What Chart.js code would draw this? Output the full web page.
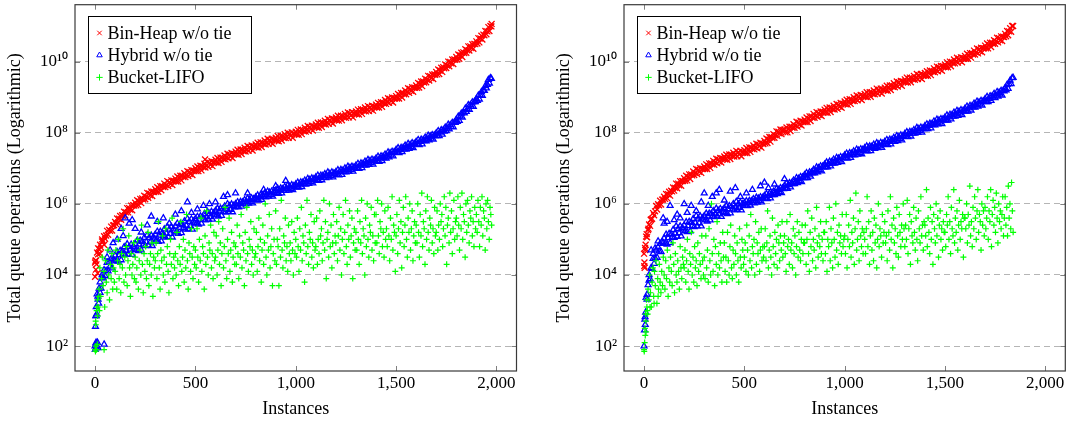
<!DOCTYPE html>
<html>
<head>
<meta charset="utf-8">
<title>Total queue operations</title>
<script src="https://cdn.jsdelivr.net/npm/chart.js@4.4.0/dist/chart.umd.min.js"></script>
<style>
  html, body { margin: 0; padding: 0; background: #fff; }
  #wrap { position: relative; width: 1075px; height: 421px; }
  .panel { position: absolute; top: 0; height: 421px; }
  #p1 { left: 0; width: 540px; }
  #p2 { left: 540px; width: 535px; }
</style>
</head>
<body>
<div id="wrap">
  <div class="panel" id="p1"><canvas id="chartA"></canvas></div>
  <div class="panel" id="p2"><canvas id="chartB"></canvas></div>
</div>
<script>
const seriesNames = ['Bin-Heap w/o tie', 'Hybrid w/o tie', 'Bucket-LIFO'];
const xTicks = [0, 500, 1000, 1500, 2000];
const yTickExps = [2, 4, 6, 8, 10];

// values as log10(total queue operations)
// curve series: hundredths of a decade, one value every 5 instances
// cloud series: tenths of a decade, one value every 4 instances
// extra points: [instance, log10 value]
const curveStep = 5;
const cloudStep = 4;

// ---- left panel ----
const binHeapA = [
  435,441,463,458,473,485,477,494,495,509,502,511,524,513,527,524,536,525,539,540,
  549,543,559,547,558,566,555,568,566,578,568,576,588,576,588,584,595,582,596,595,
  603,596,610,597,607,614,602,615,612,623,613,620,631,617,629,624,635,622,634,633,
  641,634,647,634,643,650,638,650,647,657,647,653,664,650,661,656,666,653,665,664,
  671,663,677,663,673,679,666,679,675,686,675,681,692,678,690,684,695,681,694,692,
  700,692,705,692,701,707,694,706,703,713,702,708,718,704,716,710,720,706,718,717,
  724,716,729,715,724,730,718,730,726,736,725,731,741,728,739,733,743,729,741,740,
  747,739,752,738,747,753,740,752,748,758,747,753,763,749,760,754,764,750,762,760,
  767,759,772,758,767,773,760,772,768,778,767,773,783,769,780,773,783,769,781,779,
  786,778,791,776,785,791,778,790,786,796,785,790,800,786,797,791,801,786,798,796,
  803,795,808,794,803,809,796,808,804,814,803,809,819,805,816,810,820,806,818,816,
  823,815,828,814,823,829,816,828,824,834,823,829,839,825,836,830,840,826,838,836,
  843,835,848,834,842,848,835,847,843,853,842,847,857,843,854,848,858,843,855,853,
  860,852,865,851,860,866,853,865,861,871,860,865,875,861,872,866,876,862,874,872,
  879,871,884,871,880,886,873,885,882,892,881,887,897,884,895,889,899,885,898,896,
  903,896,909,896,905,912,899,912,908,919,908,915,925,912,923,918,928,915,927,926,
  933,926,940,927,937,944,931,944,941,952,942,949,960,947,959,954,964,951,964,963,
  971,964,978,965,975,983,971,984,981,992,982,989,1000,987,999,995,1006,993,1006,1005,
  1013,1006,1020,1008,1018,1025,1013,1026,1024,1035,1025,1032,1043,1031,1043,1038,1049,1036,1050,1049,
  1057,1051,1066,1054,1065,1073,1062,1076,1074,1086,1077,1085,1097,1086,1100,1099
];
const binHeapExtraA = [[0, 3.95], [2, 4.4], [4, 4.15], [7, 4.3], [13, 4.05], [15, 4.75], [25, 4.6],
  [35, 5.0], [45, 4.85], [548, 7.25], [1976, 11.06]];

const hybridA = [
  200,285,346,331,362,380,362,392,391,414,397,412,435,411,436,425,445,419,444,441,
  455,439,465,438,456,468,442,466,459,479,457,468,487,458,479,472,486,457,480,475,
  488,471,497,468,486,497,470,494,485,505,482,493,512,484,505,492,511,482,506,501,
  514,497,522,494,511,522,495,518,510,529,506,517,536,507,528,516,535,506,529,524,
  537,520,545,516,533,544,518,541,532,551,528,539,558,529,550,537,557,528,551,546,
  558,545,564,542,556,565,545,563,556,572,554,563,578,556,572,563,578,556,574,570,
  581,568,587,565,579,587,567,585,578,593,576,585,600,578,594,584,599,577,595,591,
  600,592,605,591,600,606,593,605,601,611,599,605,615,601,612,606,616,602,614,612,
  619,611,624,610,619,625,612,624,620,630,619,625,635,621,632,625,635,621,633,631,
  638,630,643,629,638,644,630,642,638,648,637,643,652,638,649,643,653,639,650,648,
  655,647,660,646,655,661,648,660,656,666,655,661,671,657,668,662,672,658,670,668,
  675,667,680,665,674,680,667,679,675,684,673,679,689,675,685,679,689,675,686,684,
  690,682,695,681,690,696,682,694,690,700,689,695,705,691,702,696,705,691,703,701,
  708,700,713,699,708,714,701,713,709,719,708,714,724,710,721,715,725,711,723,721,
  728,720,733,719,728,734,721,733,729,739,728,734,745,731,743,737,747,734,746,745,
  752,744,757,743,752,758,746,758,754,764,753,759,769,755,766,761,771,757,769,768,
  775,767,780,766,775,781,768,780,777,787,776,782,792,779,790,784,794,781,793,791,
  799,791,805,791,801,808,795,808,804,815,805,812,823,810,822,817,828,816,829,828,
  837,831,846,834,846,854,843,857,855,868,859,866,878,865,878,874,886,873,887,887,
  895,890,905,894,906,915,904,919,918,932,925,935,949,939,954,952
];
const hybridExtraA = [[1, 1.9], [3, 2.05], [5, 2.1], [7, 1.95], [9, 2.0], [12, 2.1], [15, 1.95], [45, 2.05],
  [2, 2.55], [4, 2.85], [6, 3.1], [8, 2.9], [14, 3.4], [18, 3.2], [25, 3.5], [35, 4.0], [60, 4.5],
  [75, 4.7], [90, 4.9], [110, 5.0], [130, 5.3], [140, 5.1], [150, 5.6], [170, 5.45], [185, 5.55],
  [200, 5.3], [230, 5.2], [260, 5.4], [280, 5.65], [310, 5.5], [340, 5.6], [370, 5.45], [400, 5.7],
  [430, 5.8], [460, 6.05], [480, 5.75], [510, 5.85], [540, 5.95], [570, 6.0], [600, 6.05], [640, 6.2],
  [660, 6.25], [700, 6.3], [760, 6.3], [840, 6.4], [900, 6.5], [950, 6.65]];

const bucketA = [
  19,26,30,33,31,36,42,34,39,45,37,41,31,44,38,35,47,40,33,43,39,46,36,42,38,
  41,47,36,44,50,39,43,35,46,42,53,38,45,40,48,37,44,51,42,34,46,40,43,49,39,
  45,38,42,50,36,44,47,40,54,43,35,46,41,48,39,44,52,37,43,46,40,49,34,45,42,
  44,49,39,46,55,42,36,47,44,51,40,45,38,53,43,48,41,35,46,50,43,56,39,45,42,
  46,40,52,44,37,48,43,55,41,45,50,38,47,42,57,44,36,49,46,41,53,45,39,48,43,
  47,42,53,45,38,50,44,56,41,48,46,36,51,43,58,45,40,49,47,54,42,46,39,52,44,
  45,51,40,47,55,43,49,37,46,53,42,48,59,44,39,50,46,56,41,47,52,38,45,49,43,
  48,43,54,46,39,51,45,57,42,49,47,37,52,44,59,46,41,50,48,55,43,47,40,53,45,
  46,52,41,48,56,44,50,38,47,54,43,49,60,45,40,51,47,57,42,48,53,37,46,50,44,
  58,43,50,48,37,53,45,61,47,42,51,49,56,44,48,41,54,46,49,44,55,47,40,52,46,
  50,45,56,48,41,53,47,59,44,51,49,38,54,46,61,48,43,52,50,57,45,49,42,55,47,
  48,56,43,50,46,58,51,53,44,49,61,47,55,39,50,52,45,60,48,54,42,49,57,46,51,
  49,55,44,51,59,47,53,40,50,57,46,52,61,48,43,54,50,58,45,51,56,39,49,53,47,
  52,47,58,50,43,55,49,61,46,53,51,40,56,48,60,50,45,54,52,59,47,51,44,57,49,
  57,49,61,51,46,55,53,60,48,52,45,58,50,53,48,59,51,44,56,50,62,47,54,52,41,
  51,57,46,53,61,49,55,42,52,59,48,54,62,50,45,56,52,60,47,53,58,44,51,55,49,
  54,49,60,52,45,57,51,63,48,55,53,43,58,50,62,52,47,56,54,61,49,53,46,59,51,
  52,58,47,54,50,60,55,57,48,53,62,51,59,43,54,56,49,63,52,58,46,53,61,50,55,
  56,51,62,54,47,59,53,63,50,57,55,45,60,52,61,54,49,58,56,62,51,55,48,59,53,
  57,52,61,55,48,59,54,62,51,58,56,47,60,53,61,55,50,59,57,54
];
const bucketExtraA = [[2, 1.85], [4, 2.0], [7, 1.9], [11, 2.05], [45, 1.9], [3, 2.7], [9, 3.1],
  [13, 2.85], [18, 3.4], [22, 3.0]];

// ---- right panel ----
const binHeapB = [
  460,476,508,506,526,542,538,556,558,574,568,579,594,584,599,596,609,598,612,612,
  620,614,628,616,627,634,623,637,635,646,637,645,657,644,657,652,664,651,664,664,
  672,665,679,666,676,683,670,683,680,691,681,687,698,684,696,690,700,687,699,698,
  705,698,711,698,707,714,701,714,711,721,710,717,727,714,725,719,729,716,728,726,
  733,725,738,724,733,739,726,738,734,744,733,739,749,734,745,739,749,734,746,744,
  751,743,757,743,752,759,746,758,754,764,753,759,769,756,767,762,772,758,770,768,
  777,770,784,771,781,788,775,788,785,796,786,793,804,791,803,798,809,796,808,807,
  809,801,815,801,811,817,805,817,814,824,814,820,831,817,829,823,834,820,832,830,
  837,830,843,830,839,846,833,846,842,853,842,848,858,845,856,850,860,847,859,857,
  865,857,870,856,865,871,858,870,866,876,865,871,881,867,879,873,884,870,882,881,
  888,880,893,879,888,894,881,893,889,900,889,895,905,891,902,896,906,892,904,902,
  909,901,914,900,909,914,901,913,909,919,908,914,924,910,921,914,924,910,922,920,
  927,919,932,918,927,933,920,933,929,939,928,934,944,930,942,936,946,932,944,943,
  950,942,955,941,950,955,942,954,950,960,949,955,965,951,962,955,965,951,963,961,
  968,960,973,960,969,975,962,974,971,981,970,976,986,973,984,978,988,974,987,985,
  992,984,998,984,993,1000,987,999,995,1006,995,1001,1011,997,1008,1002,1012,998,1010,1008,
  1016,1008,1022,1008,1018,1024,1011,1024,1020,1031,1020,1026,1037,1023,1035,1029,1039,1026,1038,1037,
  1045,1037,1051,1037,1047,1053,1041,1053,1050,1060,1050,1057,1067,1054,1066,1060,1071,1058,1070,1069,
  1078,1071,1086,1074,1085,1094,1084,1100,1100
];
const binHeapExtraB = [[1, 4.25], [2, 4.35], [3, 4.2], [6, 4.7], [8, 4.85], [13, 5.15], [22, 5.3], [33, 5.55]];

const hybridB = [
  200,282,336,331,372,400,389,420,418,446,432,447,470,449,478,467,488,465,494,490,
  503,488,514,486,504,516,490,514,506,527,505,517,537,508,530,518,537,509,532,528,
  540,524,549,521,538,550,523,547,538,558,535,547,566,537,559,546,565,537,560,556,
  566,554,573,551,565,573,554,572,565,580,563,572,587,565,581,571,586,564,582,578,
  588,575,594,572,586,594,574,592,585,600,582,591,606,584,599,589,604,582,600,596,
  603,595,608,594,603,609,596,608,604,614,602,608,618,604,615,609,619,605,617,615,
  623,615,628,614,623,629,616,628,625,635,625,631,642,628,640,634,645,631,644,642,
  651,643,657,643,653,659,647,659,656,666,656,662,673,659,671,665,676,662,675,673,
  681,673,687,673,683,689,677,689,686,696,686,692,703,689,701,695,706,692,705,703,
  711,703,717,703,712,719,706,718,714,725,714,720,730,716,728,722,732,718,730,729,
  737,729,742,728,737,743,730,742,738,748,737,743,753,739,750,744,754,740,752,750,
  757,749,762,748,757,762,749,761,757,767,755,761,771,757,768,762,772,758,770,768,
  775,767,780,766,775,781,768,780,776,786,775,781,791,777,788,783,793,779,791,789,
  797,789,802,788,797,803,790,802,798,808,798,804,814,800,811,805,815,801,813,811,
  819,811,824,811,820,826,813,825,822,832,821,827,837,824,835,829,839,825,838,836,
  843,835,849,835,844,851,838,850,846,857,846,852,862,848,860,854,864,850,862,861,
  868,860,874,860,869,876,863,875,872,882,871,878,888,874,886,880,890,877,889,888,
  895,887,901,887,896,903,890,903,899,910,898,905,915,902,913,908,918,905,918,917,
  926,920,935,924,937,947,937,954,955
];
const hybridExtraB = [[2, 2.45], [4, 2.75], [6, 2.6], [8, 2.95], [15, 3.45], [25, 3.85], [35, 4.7],
  [45, 4.6], [55, 4.75], [70, 4.95], [95, 5.6], [100, 5.45], [115, 5.5], [130, 5.95], [150, 5.55],
  [165, 5.7], [180, 5.6], [200, 6.0], [215, 5.75], [235, 5.95], [260, 5.8], [285, 6.05], [300, 6.3],
  [320, 5.95], [340, 6.2], [360, 6.3], [375, 6.4], [400, 6.1], [430, 6.35], [455, 6.45], [480, 6.2],
  [510, 6.3], [540, 6.4], [580, 6.5], [600, 6.6], [620, 6.45], [650, 6.55], [700, 6.7]];

const bucketB = [
  19,25,29,33,30,36,33,40,35,31,38,42,34,41,37,44,32,39,36,43,38,35,41,37,45,
  40,36,44,39,47,34,42,38,45,41,37,49,43,35,46,40,38,44,41,36,48,42,39,45,43,
  42,47,38,44,50,41,36,46,43,52,40,45,38,48,42,44,37,49,41,46,43,39,51,44,40,
  45,39,51,42,47,38,53,44,40,60,46,41,50,37,48,43,55,40,46,42,49,44,38,52,45,
  49,41,45,38,52,44,40,48,54,42,39,47,43,51,46,40,49,44,38,53,45,42,50,47,43,
  45,49,41,54,47,40,51,44,57,42,48,46,50,40,55,43,49,46,52,41,47,53,44,48,45,
  48,53,44,49,58,42,47,51,45,40,56,48,43,52,46,50,42,54,49,44,51,47,55,45,49,
  51,46,41,55,48,50,43,57,47,49,42,53,46,51,40,48,55,45,52,47,44,50,54,46,49,
  49,54,43,50,58,46,41,52,48,56,44,50,47,53,42,59,49,45,51,48,55,46,50,44,52,
  52,46,55,41,50,48,59,44,53,49,42,56,50,45,60,47,52,43,54,49,51,46,57,48,50,
  51,46,57,42,50,54,48,61,45,52,49,56,43,53,63,47,50,55,44,58,51,48,53,46,52,
  50,46,53,62,48,55,43,51,58,47,52,44,56,49,54,42,50,60,48,53,51,45,57,49,52,
  55,49,51,44,58,52,47,62,50,54,42,56,49,53,46,59,51,45,57,52,48,54,50,60,53,
  48,54,50,61,46,53,57,43,55,51,49,59,52,47,56,50,44,58,53,49,62,51,54,47,55,
  54,51,64,48,56,52,46,59,50,55,43,57,53,49,60,51,56,45,54,58,50,53,47,55,52,
  52,48,57,54,62,50,55,46,59,53,51,64,49,56,52,58,47,54,61,50,55,53,57,45,56,
  56,53,60,49,57,54,65,51,55,48,59,53,62,56,50,58,64,52,57,55,47,60,54,58,51,
  59,53,56,62,50,58,55,64,48,57,61,54,59,52,63,56,49,60,55,58,53,57,62,51,56,
  62,54,59,51,65,56,60,53,66,58,52
];
const bucketExtraB = [[1, 1.85], [3, 2.1], [6, 2.3], [9, 2.7], [10, 2.4], [14, 3.1], [18, 2.9],
  [30, 3.1], [50, 3.2], [70, 3.4]];

const FONT = 'Liberation Serif';
const supDigits = { '0': '\u2070', '1': '\u00b9', '2': '\u00b2', '4': '\u2074', '6': '\u2076', '8': '\u2078' };

function toPoints(vals, step, per, extra) {
  const pts = vals.map((v, i) => ({ x: i * step, y: Math.pow(10, v / per) }));
  extra.forEach(p => pts.push({ x: p[0], y: Math.pow(10, p[1]) }));
  return pts;
}

function expLabel(v) {
  const e = Math.round(Math.log10(v));
  return '10' + String(e).split('').map(d => supDigits[d]).join('');
}

const decor = {
  id: 'decor',
  afterDatasetsDraw(chart) {
    const { ctx, chartArea: a } = chart;
    const xs = chart.scales.x, ys = chart.scales.y;
    ctx.save();
    ctx.strokeStyle = '#808080';
    ctx.lineWidth = 1;
    ctx.beginPath();
    xTicks.forEach(v => {
      const px = Math.round(xs.getPixelForValue(v)) + 0.5;
      ctx.moveTo(px, a.bottom); ctx.lineTo(px, a.bottom - 5);
      ctx.moveTo(px, a.top); ctx.lineTo(px, a.top + 5);
    });
    yTickExps.forEach(e => {
      const py = Math.round(ys.getPixelForValue(Math.pow(10, e))) + 0.5;
      ctx.moveTo(a.left, py); ctx.lineTo(a.left + 5, py);
      ctx.moveTo(a.right, py); ctx.lineTo(a.right - 5, py);
    });
    ctx.stroke();
    ctx.strokeStyle = '#3a3a3a';
    ctx.lineWidth = 1.2;
    ctx.strokeRect(a.left, a.top, a.right - a.left, a.bottom - a.top);
    ctx.restore();
  },
  afterDraw(chart) {
    // legend box in the upper left corner of the plot
    const { ctx, chartArea: a } = chart;
    const x0 = Math.round(a.left + 13) + 0.5, y0 = Math.round(a.top + 11) + 0.5;
    const w = 163, h = 77;
    ctx.save();
    ctx.fillStyle = '#fff';
    ctx.fillRect(x0, y0, w, h);
    ctx.strokeStyle = '#000';
    ctx.lineWidth = 1;
    ctx.strokeRect(x0, y0, w, h);
    ctx.font = '18px "' + FONT + '"';
    ctx.textBaseline = 'middle';
    chart.data.datasets.forEach((ds, i) => {
      const cy = y0 + 16.5 + i * 22.2;
      ctx.strokeStyle = ds.pointBorderColor;
      ctx.fillStyle = ds.pointBackgroundColor;
      ctx.lineWidth = 1;
      Chart.helpers.drawPoint(ctx, { pointStyle: ds.pointStyle, radius: 3.2, borderWidth: 1, rotation: 0 }, x0 + 11, cy);
      ctx.fillStyle = '#000';
      ctx.fillText(ds.label, x0 + 19, cy + 1);
    });
    ctx.restore();
  }
};

function makeChart(id, red, blue, green, pad) {
  return new Chart(document.getElementById(id), {
    type: 'scatter',
    data: {
      datasets: [
        { label: seriesNames[0], data: red, pointStyle: 'crossRot', pointRadius: 4.2, pointBorderWidth: 1.3,
          pointBorderColor: '#ff0000', pointBackgroundColor: '#ff0000', order: 3 },
        { label: seriesNames[1], data: blue, pointStyle: 'triangle', pointRadius: 3.4, pointBorderWidth: 1.3,
          pointBorderColor: '#0000ff', pointBackgroundColor: 'rgba(0,0,0,0)', order: 2 },
        { label: seriesNames[2], data: green, pointStyle: 'cross', pointRadius: 3, pointBorderWidth: 1.2,
          pointBorderColor: '#00ff00', pointBackgroundColor: '#00ff00', order: 1 }
      ]
    },
    options: {
      responsive: true,
      maintainAspectRatio: false,
      animation: false,
      events: [],
      layout: { autoPadding: false, padding: pad.layout },
      plugins: { legend: { display: false }, tooltip: { enabled: false } },
      scales: {
        x: {
          type: 'linear', min: -100, max: 2100,
          afterBuildTicks: s => { s.ticks = xTicks.map(v => ({ value: v })); },
          afterFit: s => { s.height = pad.xh; s.paddingLeft = 0; s.paddingRight = 0; },
          ticks: { callback: v => v.toLocaleString('en-US'), autoSkip: false, maxRotation: 0,
            padding: 2, color: '#000', font: { family: FONT, size: 17 } },
          grid: { display: false, drawTicks: false },
          border: { display: false },
          title: { display: true, text: 'Instances', color: '#000', padding: 0,
            font: { family: FONT, size: 18 } }
        },
        y: {
          type: 'logarithmic', min: Math.pow(10, 1.3), max: Math.pow(10, 11.6),
          afterBuildTicks: s => { s.ticks = yTickExps.map(e => ({ value: Math.pow(10, e) })); },
          afterFit: s => { s.width = pad.yw; s.paddingTop = 0; s.paddingBottom = 0; },
          ticks: { callback: v => expLabel(v), autoSkip: false, padding: 7, color: '#000',
            font: { family: FONT, size: 17 } },
          grid: { color: '#b5b5b5', lineWidth: 1, drawTicks: false },
          border: { display: false, dash: [6, 4] },
          title: { display: true, text: 'Total queue operations (Logarithmic)', color: '#000', padding: 0,
            font: { family: FONT, size: 18 } }
        }
      }
    },
    plugins: [decor]
  });
}

makeChart('chartA',
  toPoints(binHeapA, curveStep, 100, binHeapExtraA),
  toPoints(hybridA, curveStep, 100, hybridExtraA),
  toPoints(bucketA, cloudStep, 10, bucketExtraA),
  { layout: { left: 4.3, right: 23.5, top: 4.7, bottom: 1 }, yw: 70.7, xh: 49 });

makeChart('chartB',
  toPoints(binHeapB, curveStep, 100, binHeapExtraB),
  toPoints(hybridB, curveStep, 100, hybridExtraB),
  toPoints(bucketB, cloudStep, 10, bucketExtraB),
  { layout: { left: 13.2, right: 9.7, top: 4.7, bottom: 1 }, yw: 70.8, xh: 49 });
</script>
</body>
</html>
